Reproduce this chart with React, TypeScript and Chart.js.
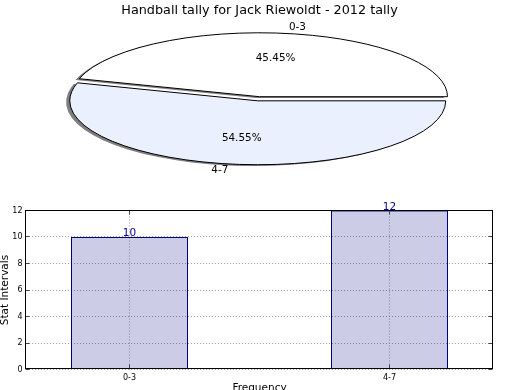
import React, { useEffect, useRef } from 'react';
import { Chart, registerables } from 'chart.js';

Chart.register(...registerables);

// ---- data ----
const chartTitle = 'Handball tally for Jack Riewoldt - 2012 tally';
const categories = ['0-3', '4-7'];
const counts = [10, 12];
const yTicks = [0, 2, 4, 6, 8, 10, 12];
const xAxisTitle = 'Frequency';
const yAxisTitle = 'Stat Intervals';

// ---- style ----
const FONT = "'DejaVu Sans', sans-serif";
const explode = [0, 0.065];
const sliceColors = ['#ffffff', '#eaf0fd'];
const SQUASH = 0.34;

Chart.defaults.font.family = FONT;

const total = counts.reduce((a, b) => a + b, 0);

const ellipsePiePlugin = {
  id: 'ellipsePie',
  beforeDatasetsDraw(chart: any) {
    const ctx = chart.ctx;
    const meta = chart.getDatasetMeta(0);
    meta.data.forEach((arc: any, i: number) => {
      const { x, y, startAngle, endAngle, outerRadius } = arc;
      const mid = (startAngle + endAngle) / 2;
      const ex = Math.cos(mid) * explode[i] * outerRadius;
      const ey = Math.sin(mid) * explode[i] * outerRadius * SQUASH;
      // fill with shadow
      ctx.save();
      ctx.shadowColor = 'rgba(0,0,0,0.5)';
      ctx.shadowOffsetX = -3.7;
      ctx.shadowOffsetY = 1.3;
      ctx.shadowBlur = 0;
      ctx.translate(x + ex, y + ey);
      ctx.scale(1, SQUASH);
      ctx.translate(-x, -y);
      arc.draw(ctx);
      ctx.restore();
      // outline
      ctx.save();
      ctx.translate(x + ex, y + ey);
      ctx.beginPath();
      ctx.save();
      ctx.scale(1, SQUASH);
      ctx.moveTo(0, 0);
      ctx.arc(0, 0, outerRadius, startAngle, endAngle);
      ctx.closePath();
      ctx.restore();
      ctx.lineWidth = 1;
      ctx.strokeStyle = '#000';
      ctx.lineJoin = 'miter';
      ctx.stroke();
      ctx.restore();
    });
    return false;
  },
  afterDraw(chart: any) {
    const ctx = chart.ctx;
    const meta = chart.getDatasetMeta(0);
    meta.data.forEach((arc: any, i: number) => {
      const { x, y, startAngle, endAngle, outerRadius: R } = arc;
      const mid = (startAngle + endAngle) / 2;
      const c = Math.cos(mid);
      const s = Math.sin(mid);
      const cx = x + c * explode[i] * R;
      const cy = y + s * explode[i] * R * SQUASH;
      ctx.save();
      ctx.font = `10.4px ${FONT}`;
      ctx.fillStyle = '#000';
      ctx.textBaseline = 'middle';
      ctx.textAlign = c > 0 ? 'left' : 'right';
      ctx.fillText(categories[i], cx + c * 1.1 * R, cy + s * 1.1 * R * SQUASH);
      ctx.textAlign = 'center';
      ctx.fillText(((counts[i] / total) * 100).toFixed(2) + '%', cx + c * 0.6 * R, cy + s * 0.6 * R * SQUASH);
      ctx.restore();
    });
  },
};

const boxPlugin = {
  id: 'box',
  afterDraw(chart: any) {
    const ctx = chart.ctx;
    const a = chart.chartArea;
    const left = Math.floor(a.left) + 0.5;
    const top = Math.floor(a.top) + 0.5;
    const right = Math.floor(a.right) - 0.5;
    const bottom = Math.floor(a.bottom) - 0.5;
    ctx.save();
    // inward tick marks
    ctx.strokeStyle = '#444';
    ctx.lineWidth = 1;
    const ys = chart.scales.y;
    const xs = chart.scales.x;
    yTicks.forEach((v) => {
      const py = Math.floor(ys.getPixelForValue(v)) + 0.5;
      ctx.beginPath();
      ctx.moveTo(left, py); ctx.lineTo(left + 4, py);
      ctx.moveTo(right, py); ctx.lineTo(right - 4, py);
      ctx.stroke();
    });
    categories.forEach((_, i) => {
      const px = Math.floor(xs.getPixelForValue(i)) + 0.5;
      ctx.beginPath();
      ctx.moveTo(px, bottom); ctx.lineTo(px, bottom - 4);
      ctx.moveTo(px, top); ctx.lineTo(px, top + 4);
      ctx.stroke();
    });
    ctx.strokeStyle = '#000';
    ctx.strokeRect(left, top, right - left, bottom - top);
    ctx.restore();
  },
};

const valueLabelPlugin = {
  id: 'valueLabels',
  afterDatasetsDraw(chart: any) {
    const ctx = chart.ctx;
    const meta = chart.getDatasetMeta(0);
    ctx.save();
    ctx.font = `10.5px ${FONT}`;
    ctx.fillStyle = '#00008b';
    ctx.textAlign = 'center';
    ctx.textBaseline = 'alphabetic';
    meta.data.forEach((bar: any, i: number) => {
      ctx.fillText(String(counts[i]), bar.x, Math.round(bar.y) - 1);
    });
    ctx.restore();
  },
};

function PieChart() {
  const ref = useRef<HTMLCanvasElement>(null);
  useEffect(() => {
    const chart = new Chart(ref.current as HTMLCanvasElement, {
      type: 'pie',
      data: {
        labels: categories,
        datasets: [
          {
            data: counts,
            backgroundColor: sliceColors,
            borderWidth: 0,
            clip: false as any,
          },
        ],
      },
      options: {
        animation: false,
        responsive: false,
        radius: 188,
        rotation: 90 - (360 * counts[0]) / total,
        layout: { padding: { left: 0, right: 1, top: 0, bottom: 10.76 } },
        plugins: {
          legend: { display: false },
          tooltip: { enabled: false },
          title: {
            display: true,
            text: chartTitle,
            color: '#000',
            font: { family: FONT, size: 12.8, weight: 'normal' as any },
            padding: { top: 2.8, bottom: 0 },
          },
        },
      } as any,
      plugins: [ellipsePiePlugin],
    });
    return () => chart.destroy();
  }, []);
  return (
    <canvas
      ref={ref}
      width={520}
      height={186}
      style={{ position: 'absolute', left: 0, top: 0, width: 520, height: 186 }}
    />
  );
}

function BarChart() {
  const ref = useRef<HTMLCanvasElement>(null);
  useEffect(() => {
    const gridOpts = { color: '#a0a0a0', lineWidth: 1, drawTicks: false, offset: false };
    const borderOpts = { display: false, dash: [1, 2] };
    const chart = new Chart(ref.current as HTMLCanvasElement, {
      type: 'bar',
      data: {
        datasets: [
          {
            data: categories.map((_, i) => ({ x: i, y: counts[i] })),
            backgroundColor: 'rgba(0,0,128,0.2)',
            borderColor: '#000080',
            borderWidth: 1,
            inflateAmount: 0,
            barPercentage: 0.45,
            categoryPercentage: 1,
          },
        ],
      },
      options: {
        animation: false,
        responsive: false,
        layout: { padding: { top: 20.5, right: 26.5, left: 0, bottom: 0 } },
        plugins: { legend: { display: false }, tooltip: { enabled: false } },
        scales: {
          x: {
            type: 'linear',
            min: -0.4,
            max: 1.4,
            offset: false,
            afterBuildTicks: (s: any) => {
              s.ticks = categories.map((_, i) => ({ value: i }));
            },
            ticks: {
              callback: (v: any) => categories[v] ?? '',
              font: { family: FONT, size: 8 },
              color: '#000',
              padding: 4,
              autoSkip: false,
              maxRotation: 0,
            },
            grid: gridOpts,
            border: borderOpts,
            title: {
              display: true,
              text: xAxisTitle,
              color: '#000',
              font: { family: FONT, size: 10.5, lineHeight: 1 },
              padding: { top: 0, bottom: 2.25 },
            },
            afterFit: (s: any) => {
              s.height = 26.5;
            },
          },
          y: {
            min: 0,
            max: 12,
            afterBuildTicks: (s: any) => {
              s.ticks = yTicks.map((v) => ({ value: v }));
            },
            ticks: {
              font: { family: FONT, size: 8 },
              color: '#000',
              padding: 3,
            },
            grid: gridOpts,
            border: borderOpts,
            title: {
              display: true,
              text: yAxisTitle,
              color: '#000',
              font: { family: FONT, size: 10.5, lineHeight: 1 },
              padding: 0,
            },
            afterFit: (s: any) => {
              s.width = 25.5;
            },
          },
        },
      } as any,
      plugins: [valueLabelPlugin, boxPlugin],
    });
    return () => chart.destroy();
  }, []);
  return (
    <canvas
      ref={ref}
      width={520}
      height={206}
      style={{ position: 'absolute', left: 0, top: 190, width: 520, height: 206 }}
    />
  );
}

export default function App() {
  return (
    <div
      style={{
        position: 'absolute',
        left: 0,
        top: 0,
        width: 520,
        height: 390,
        overflow: 'hidden',
        background: '#fff',
      }}
    >
      <PieChart />
      <BarChart />
    </div>
  );
}
